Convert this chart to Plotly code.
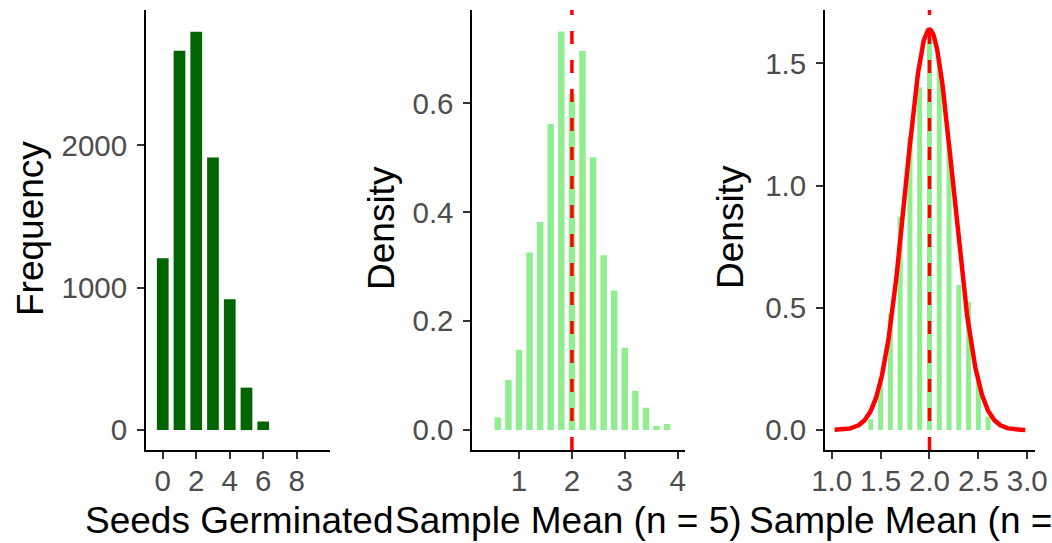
import numpy as np
import plotly.graph_objects as go

W, H = 1052, 543

# ---------------- data ----------------
seeds_x = [0, 1, 2, 3, 4, 5, 6]
seeds_freq = [1207, 2663, 2798, 1914, 919, 298, 60]

mean5_x = [0.6, 0.8, 1.0, 1.2, 1.4, 1.6, 1.8, 2.0, 2.2, 2.4, 2.6, 2.8, 3.0, 3.2, 3.4, 3.6, 3.8]
mean5_density = [0.023, 0.092, 0.147, 0.326, 0.382, 0.562, 0.732, 0.617, 0.696, 0.501,
                 0.321, 0.256, 0.151, 0.072, 0.041, 0.008, 0.011]

mean30_x = [1.4, 1.5, 1.6, 1.7, 1.8, 1.9, 2.0, 2.1, 2.2, 2.3, 2.4, 2.5, 2.6]
mean30_density = [0.044, 0.218, 0.477, 0.873, 1.20, 1.402, 1.60, 1.50, 1.17, 0.593, 0.525, 0.20, 0.055]

pop_mean = 2.0
normal_mu = 2.0
normal_sd = 0.2435
curve_xmin, curve_xmax = 1.03, 2.98

ticks1_x = [0, 2, 4, 6, 8]
ticks1_y = [0, 1000, 2000]
ticks2_x = [1, 2, 3, 4]
ticks2_y = [0.0, 0.2, 0.4, 0.6]
ticks3_x = [1.0, 1.5, 2.0, 2.5, 3.0]
ticks3_y = [0.0, 0.5, 1.0, 1.5]

xtitles = ["Seeds Germinated", "Sample Mean (n = 5)", "Sample Mean (n = 30)"]
ytitles = ["Frequency", "Density", "Density"]

# ---------------- layout helpers ----------------
def xd(a, b):
    return [a / W, b / W]

YDOM = [1 - 450 / H, 1 - 10 / H]

FONT = "Liberation Sans, Arial, Helvetica, sans-serif"
TICKFONT = dict(family=FONT, size=29.5, color="#4D4D4D")

def axis_common(**kw):
    d = dict(showline=True, linecolor="black", linewidth=1.8, showgrid=False,
             zeroline=False, ticks="outside", ticklen=7, tickwidth=1.8,
             tickcolor="#333333", tickfont=TICKFONT, automargin=False,
             fixedrange=True)
    d.update(kw)
    return d

fig = go.Figure()

fig.add_trace(go.Bar(x=seeds_x, y=seeds_freq, width=0.7, marker=dict(color="#006400", line=dict(width=0)),
                     xaxis="x", yaxis="y", showlegend=False))
fig.add_trace(go.Bar(x=mean5_x, y=mean5_density, width=0.123, marker=dict(color="#90EE90", line=dict(width=0)),
                     xaxis="x2", yaxis="y2", showlegend=False))
fig.add_trace(go.Bar(x=mean30_x, y=mean30_density, width=0.051, marker=dict(color="#90EE90", line=dict(width=0)),
                     xaxis="x3", yaxis="y3", showlegend=False))

cx = np.linspace(curve_xmin, curve_xmax, 400)
cy = np.exp(-0.5 * ((cx - normal_mu) / normal_sd) ** 2) / (normal_sd * np.sqrt(2 * np.pi))
fig.add_trace(go.Scatter(x=cx, y=cy, mode="lines", line=dict(color="red", width=4.5),
                         xaxis="x3", yaxis="y3", showlegend=False))

XSTAND = -3
YSTAND = 4
fig.update_layout(
    width=W, height=H,
    margin=dict(l=0, r=0, t=0, b=0),
    paper_bgcolor="white", plot_bgcolor="white",
    barmode="overlay",
    template="none",
    showlegend=False,
    xaxis=axis_common(domain=xd(146, 330.2), range=[-1, 10], tickvals=ticks1_x,
                      ticktext=[str(v) for v in ticks1_x], anchor="y", ticklabelstandoff=XSTAND),
    yaxis=axis_common(domain=YDOM, range=[-140, 2950], tickvals=ticks1_y,
                      ticktext=[str(v) for v in ticks1_y], anchor="x", ticklabelstandoff=YSTAND),
    xaxis2=axis_common(domain=xd(472.3, 685), range=[0.117, 4.138], tickvals=ticks2_x,
                       ticktext=[str(v) for v in ticks2_x], anchor="y2", ticklabelstandoff=XSTAND),
    yaxis2=axis_common(domain=YDOM, range=[-0.0367, 0.7713], tickvals=ticks2_y,
                       ticktext=[f"{v:.1f}" for v in ticks2_y], anchor="x2", ticklabelstandoff=YSTAND),
    xaxis3=axis_common(domain=xd(825, 1035), range=[0.9315, 3.079], tickvals=ticks3_x,
                       ticktext=[f"{v:.1f}" for v in ticks3_x], anchor="y3", ticklabelstandoff=XSTAND),
    yaxis3=axis_common(domain=YDOM, range=[-0.0818, 1.718], tickvals=ticks3_y,
                       ticktext=[f"{v:.1f}" for v in ticks3_y], anchor="x3", ticklabelstandoff=YSTAND),
)

for xr, yr in [("x2", "y2 domain"), ("x3", "y3 domain")]:
    fig.add_shape(type="line", xref=xr, yref=yr, x0=pop_mean, x1=pop_mean, y0=0, y1=1,
                  line=dict(color="red", width=3.5, dash="13px,16px"), layer="above")

TITLEFONT = dict(family=FONT, size=37, color="black")
xt_left = [83, 393, 747]
for t, xl in zip(xtitles, xt_left):
    fig.add_annotation(text=t, xref="paper", yref="paper", x=xl / W, y=1 - 520 / H,
                       xanchor="left", yanchor="middle", showarrow=False, font=TITLEFONT)
yt_pos = [(31, 229), (381, 228), (731, 227)]
for t, (px, py) in zip(ytitles, yt_pos):
    fig.add_annotation(text=t, xref="paper", yref="paper", x=px / W, y=1 - py / H,
                       xanchor="center", yanchor="middle", textangle=-90, showarrow=False,
                       font=TITLEFONT)

fig.write_html("out.html", config={"displayModeBar": False},
               post_script="document.body.style.margin='0';document.body.style.overflow='hidden';")
